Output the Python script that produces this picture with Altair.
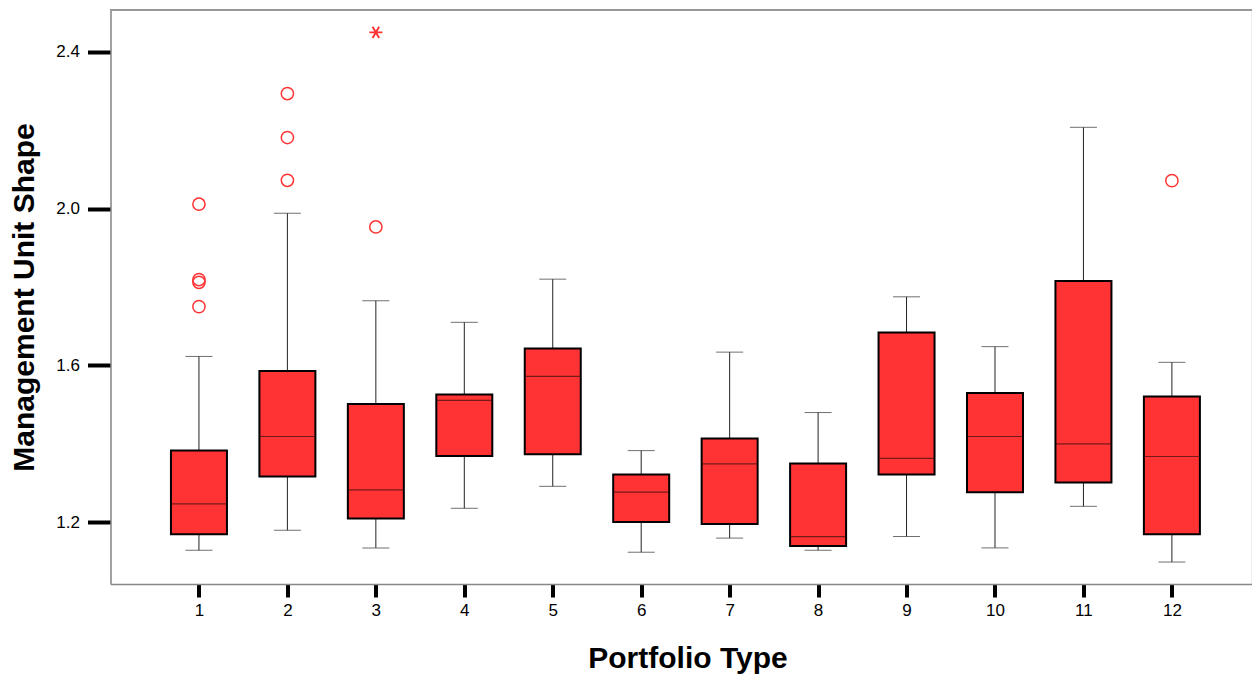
import altair as alt
import pandas as pd

# Box-plot statistics
portfolio = [1, 2, 3, 4, 5, 6, 7, 8, 9, 10, 11, 12]
lower_whisker = [1.129, 1.180, 1.135, 1.236, 1.292, 1.124, 1.160, 1.129, 1.164, 1.135, 1.241, 1.099]
q1 = [1.170, 1.317, 1.210, 1.369, 1.374, 1.201, 1.196, 1.140, 1.322, 1.277, 1.302, 1.170]
median = [1.247, 1.419, 1.283, 1.511, 1.572, 1.277, 1.349, 1.164, 1.363, 1.419, 1.400, 1.368]
q3 = [1.383, 1.586, 1.502, 1.526, 1.643, 1.322, 1.414, 1.350, 1.684, 1.530, 1.815, 1.521]
upper_whisker = [1.623, 1.988, 1.765, 1.710, 1.820, 1.383, 1.634, 1.480, 1.775, 1.648, 2.207, 1.608]

outlier_portfolio = [1, 1, 1, 1, 2, 2, 2, 3, 12]
outlier_value = [2.011, 1.819, 1.812, 1.750, 2.072, 2.181, 2.293, 1.953, 2.071]

extreme_portfolio = [3]
extreme_value = [2.449]

y_ticks = [1.2, 1.6, 2.0, 2.4]
x_ticks = portfolio

boxes = pd.DataFrame({
    "portfolio": portfolio, "lo": lower_whisker, "q1": q1,
    "med": median, "q3": q3, "hi": upper_whisker,
})
outliers = pd.DataFrame({"portfolio": outlier_portfolio, "value": outlier_value})
extremes = pd.DataFrame({"portfolio": extreme_portfolio, "value": extreme_value})

W, H = 1141, 574
RED = "#ff3333"
FONT = "Liberation Sans"

xscale = alt.Scale(domain=[0, 12.9], nice=False, zero=False, padding=0)
yscale = alt.Scale(domain=[1.043, 2.506], nice=False, zero=False, padding=0)

xaxis = alt.Axis(
    values=x_ticks, format="d", grid=False, title="Portfolio Type",
    labelFont=FONT, labelFontSize=17, labelColor="black", labelPadding=5,
    tickColor="black", tickWidth=4, tickSize=13,
    domainColor="#888888", domainWidth=1.5,
    titleFont=FONT, titleFontSize=30, titleFontWeight="bold", titleColor="black",
    titleX=577, titleY=83, titleBaseline="alphabetic", titleAlign="center",
)
yaxis = alt.Axis(
    values=y_ticks, format=".1f", grid=False, title="Management Unit Shape",
    labelFont=FONT, labelFontSize=17, labelColor="black", labelPadding=8,
    tickColor="black", tickWidth=4, tickSize=23,
    domainColor="#888888", domainWidth=1.5,
    titleFont=FONT, titleFontSize=30, titleFontWeight="bold", titleColor="black",
    titleX=-77, titleY=287, titleAngle=-90, titleBaseline="alphabetic", titleAlign="center",
)

base = alt.Chart(boxes)
x = alt.X("portfolio:Q", scale=xscale, axis=xaxis)

whisker = base.mark_rule(color="#222222", strokeWidth=1).encode(
    x=x, y=alt.Y("lo:Q", scale=yscale, axis=yaxis), y2="hi:Q"
)
cap_lo = base.mark_tick(orient="horizontal", size=27, thickness=1, color="#333333").encode(
    x="portfolio:Q", y="lo:Q"
)
cap_hi = base.mark_tick(orient="horizontal", size=27, thickness=1, color="#333333").encode(
    x="portfolio:Q", y="hi:Q"
)
box = base.mark_bar(size=56, fill=RED, stroke="black", strokeWidth=2).encode(
    x="portfolio:Q", y="q1:Q", y2="q3:Q"
)
med = base.mark_tick(orient="horizontal", size=55, thickness=1.2, color="#3a1010").encode(
    x="portfolio:Q", y="med:Q"
)
outl = alt.Chart(outliers).mark_point(
    shape="circle", size=150, filled=False, stroke=RED, strokeWidth=1.5, opacity=1
).encode(x="portfolio:Q", y="value:Q")
ext = alt.Chart(extremes).mark_point(
    shape="M-1,0L1,0M-0.5,-0.866L0.5,0.866M-0.5,0.866L0.5,-0.866",
    size=170, filled=False, stroke=RED, strokeWidth=1.9, opacity=1
).encode(x="portfolio:Q", y="value:Q")
top_border = alt.Chart(boxes).mark_rule(color="#999999", strokeWidth=1.7).encode(
    x=alt.value(0), x2=alt.value(W), y=alt.value(0)
)

chart = alt.layer(whisker, cap_lo, cap_hi, box, med, outl, ext, top_border).properties(
    width=W, height=H,
    autosize=alt.AutoSizeParams(type="none"),
    padding={"left": 110.5, "top": 10, "right": 0, "bottom": 97},
).configure_view(stroke=None).configure(background="white")

chart.save("out.html", embed_options={"renderer": "svg", "actions": False})
